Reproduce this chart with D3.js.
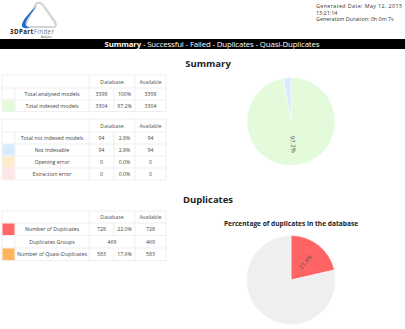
<!DOCTYPE html>
<meta charset="utf-8">
<style>
    body { margin: 0; background: white; }
    text { font-family: "Open Sans", sans-serif; }
</style>
<body>
<script src="https://d3js.org/d3.v7.min.js"></script>
<script>
    var width = 405,
        height = 329;

    // header texts
    var navItems = ["Summary", "Successful", "Failed", "Duplicates", "Quasi-Duplicates"];
    var headerLines = ["Generated  Date:  May  12,  2015", "13:21:14", "Generation Duration: 0h 0m 7s"];

    // summary tables
    var summaryLabels = ["Total analysed models", "Total indexed models"];
    var summaryDb = ["3398", "3304"];
    var summaryPct = ["100%", "97.2%"];
    var summaryAvail = ["3398", "3304"];
    var summaryColors = [null, "#e3fadb"];

    var failedLabels = ["Total not indexed models", "Not Indexable", "Opening error", "Extraction error"];
    var failedDb = ["94", "94", "0", "0"];
    var failedPct = ["2.8%", "2.8%", "0.0%", "0.0%"];
    var failedAvail = ["94", "94", "0", "0"];
    var failedColors = [null, "#d6ebfb", "#fdeccb", "#fde6e6"];

    var dupLabels = ["Number of Duplicates", "Duplicates Groups", "Number of Quasi-Duplicates"];
    var dupDb = ["728", "469", "583"];
    var dupPct = ["22.0%", null, "17.6%"];
    var dupAvail = ["728", "469", "583"];
    var dupColors = ["#ff6868", null, "#ffb45e"];

    // pie values
    var summaryPie = [3304, 94];
    var summaryPieColors = ["#e3fadb", "#d6ebfb"];
    var dupPie = [728, 3398 - 728];
    var dupPieColors = ["#ff6464", "#efefef"];

    var svg = d3.select("body").append("svg")
        .attr("width", width)
        .attr("height", height);

    // logo
    var logo = svg.append("g");
    logo.append("path")
        .attr("d", "M36,4 C39,1 42,3 45,8 L55,22 C57,26 55,28 51,27 L30,27 C26,27 25,25 27,21 Z")
        .attr("fill", "none").attr("stroke", "#d4d4d4").attr("stroke-width", 2.2)
        .attr("stroke-linejoin", "round");
    logo.append("path")
        .attr("d", "M37,6 C31,11 24,18 22,24 C21,28 25,29 30,28 C26,27 25,25 26,22 C28,17 33,11 37,6 Z")
        .attr("fill", "#1e6cd0");
    logo.append("text")
        .attr("x", 10).attr("y", 34)
        .attr("textLength", 44)
        .style("font-size", "6.2px")
        .style("font-weight", "bold")
        .style("fill", "#222")
        .text("3DPart")
        .append("tspan").style("font-weight", "normal").style("fill", "#777").text("Finder");
    logo.append("text")
        .attr("x", 41).attr("y", 37.8)
        .style("font-size", "2.6px").style("fill", "#444")
        .text("Analytics");

    // generated info
    svg.selectAll(".hdr")
        .data(headerLines)
        .enter().append("text")
        .attr("class", "hdr")
        .attr("x", 316)
        .attr("y", function(d, i) { return 8 + i * 6.7; })
        .attr("textLength", function(d, i) { return i == 0 ? 86 : null; })
        .style("font-size", "5.4px")
        .style("fill", "#333")
        .text(function(d) { return d; });

    // navigation bar
    svg.append("rect")
        .attr("x", 0).attr("y", 39)
        .attr("width", width).attr("height", 10)
        .attr("fill", "black");
    var nav = svg.append("text")
        .attr("x", 212).attr("y", 46.8)
        .attr("text-anchor", "middle")
        .attr("textLength", 215)
        .style("font-size", "7.8px")
        .style("fill", "white");
    navItems.forEach(function(d, i) {
        nav.append("tspan")
            .style("font-weight", i == 0 ? "bold" : "normal")
            .text((i > 0 ? " - " : "") + d);
    });

    // section titles
    svg.append("text").attr("x", 208).attr("y", 66.5)
        .attr("text-anchor", "middle")
        .style("font-size", "9.5px").style("font-weight", "bold").style("fill", "#222")
        .text("Summary");
    svg.append("text").attr("x", 208).attr("y", 203)
        .attr("text-anchor", "middle")
        .style("font-size", "9.5px").style("font-weight", "bold").style("fill", "#222")
        .text("Duplicates");

    // tables
    var cols = { sw: 2, lab: 15, db: 89, pct: 114, av: 135, end: 166 };
    var lineColor = "#e4e4e4";

    function drawTable(top, headH, rowH, labels, db, pct, avail, colors) {
        var g = svg.append("g");
        var n = labels.length;
        var bottom = top + headH + n * rowH;
        var y = d3.scaleLinear().domain([0, n]).range([top + headH, bottom]);

        g.append("rect")
            .attr("x", cols.sw).attr("y", top)
            .attr("width", cols.end - cols.sw).attr("height", bottom - top)
            .attr("fill", "white").attr("stroke", lineColor).attr("stroke-width", 0.6);

        // header
        g.append("text").attr("x", (cols.db + cols.av) / 2).attr("y", top + headH / 2 + 2)
            .attr("text-anchor", "middle").style("font-size", "5.3px").style("fill", "#555")
            .text("Database");
        g.append("text").attr("x", (cols.av + cols.end) / 2).attr("y", top + headH / 2 + 2)
            .attr("text-anchor", "middle").style("font-size", "5.3px").style("fill", "#555")
            .text("Available");

        // horizontal lines
        g.selectAll(".hl")
            .data(d3.range(n))
            .enter().append("line")
            .attr("x1", cols.sw).attr("x2", cols.end)
            .attr("y1", function(i) { return y(i); })
            .attr("y2", function(i) { return y(i); })
            .attr("stroke", lineColor).attr("stroke-width", 0.6);

        // vertical lines
        [cols.db, cols.av].forEach(function(x) {
            g.append("line").attr("x1", x).attr("x2", x).attr("y1", top).attr("y2", bottom)
                .attr("stroke", lineColor).attr("stroke-width", 0.6);
        });
        g.append("line").attr("x1", cols.lab).attr("x2", cols.lab).attr("y1", y(0)).attr("y2", bottom)
            .attr("stroke", lineColor).attr("stroke-width", 0.6);

        var rows = g.selectAll(".row")
            .data(labels)
            .enter().append("g")
            .attr("transform", function(d, i) { return "translate(0," + y(i) + ")"; });

        rows.filter(function(d, i) { return colors[i]; })
            .append("rect")
            .attr("x", cols.sw + 0.5).attr("y", 0.5)
            .attr("width", cols.lab - cols.sw - 1).attr("height", rowH - 1)
            .attr("fill", function(d) { return colors[labels.indexOf(d)]; });

        rows.each(function(d, i) {
            var r = d3.select(this);
            var ty = rowH / 2 + 2;
            r.append("text").attr("x", (cols.lab + cols.db) / 2).attr("y", ty)
                .attr("text-anchor", "middle").style("font-size", "5.3px").style("fill", "#444")
                .text(d);
            if (pct[i] == null) {
                r.append("text").attr("x", (cols.db + cols.av) / 2).attr("y", ty)
                    .attr("text-anchor", "middle").style("font-size", "5.2px").style("fill", "#444")
                    .text(db[i]);
            } else {
                r.append("line").attr("x1", cols.pct).attr("x2", cols.pct).attr("y1", 0).attr("y2", rowH)
                    .attr("stroke", lineColor).attr("stroke-width", 0.6);
                r.append("text").attr("x", (cols.db + cols.pct) / 2).attr("y", ty)
                    .attr("text-anchor", "middle").style("font-size", "5.2px").style("fill", "#444")
                    .text(db[i]);
                r.append("text").attr("x", (cols.pct + cols.av) / 2).attr("y", ty)
                    .attr("text-anchor", "middle").style("font-size", "5.2px").style("fill", "#444")
                    .text(pct[i]);
            }
            r.append("text").attr("x", (cols.av + cols.end) / 2).attr("y", ty)
                .attr("text-anchor", "middle").style("font-size", "5.2px").style("fill", "#444")
                .text(avail[i]);
        });
    }

    drawTable(75, 13, 11.8, summaryLabels, summaryDb, summaryPct, summaryAvail, summaryColors);
    drawTable(119, 13, 12, failedLabels, failedDb, failedPct, failedAvail, failedColors);
    drawTable(211, 12, 12.5, dupLabels, dupDb, dupPct, dupAvail, dupColors);

    // pies
    function drawPie(cx, cy, r, values, colors, labelIndex) {
        var pie = d3.pie().sort(null);
        var arcs = pie(values);
        var arc = d3.arc().innerRadius(0).outerRadius(r);
        var g = svg.append("g").attr("transform", "translate(" + cx + "," + cy + ")");
        g.selectAll("path")
            .data(arcs)
            .enter().append("path")
            .attr("d", arc)
            .attr("fill", function(d, i) { return colors[i]; })
            .attr("stroke", "white").attr("stroke-width", 0.5);

        var total = d3.sum(values);
        var d = arcs[labelIndex];
        var mid = (d.startAngle + d.endAngle) / 2;
        var lr = r * 0.52;
        var deg = mid * 180 / Math.PI - 90;
        g.append("text")
            .attr("transform", "translate(" + (lr * Math.sin(mid)) + "," + (-lr * Math.cos(mid)) + ") rotate(" + deg + ")")
            .attr("text-anchor", "middle")
            .attr("dy", "0.35em")
            .style("font-size", "6px")
            .style("fill", "#555")
            .text((d.value / total * 100).toFixed(1) + "%");
    }

    drawPie(291, 121.5, 44, summaryPie, summaryPieColors, 0);

    svg.append("text").attr("x", 291).attr("y", 226)
        .attr("text-anchor", "middle")
        .style("font-size", "6.6px").style("font-weight", "bold").style("fill", "#222")
        .text("Percentage of duplicates in the database");

    drawPie(291, 280, 44.5, dupPie, dupPieColors, 0);
</script>
</body>
</html>
